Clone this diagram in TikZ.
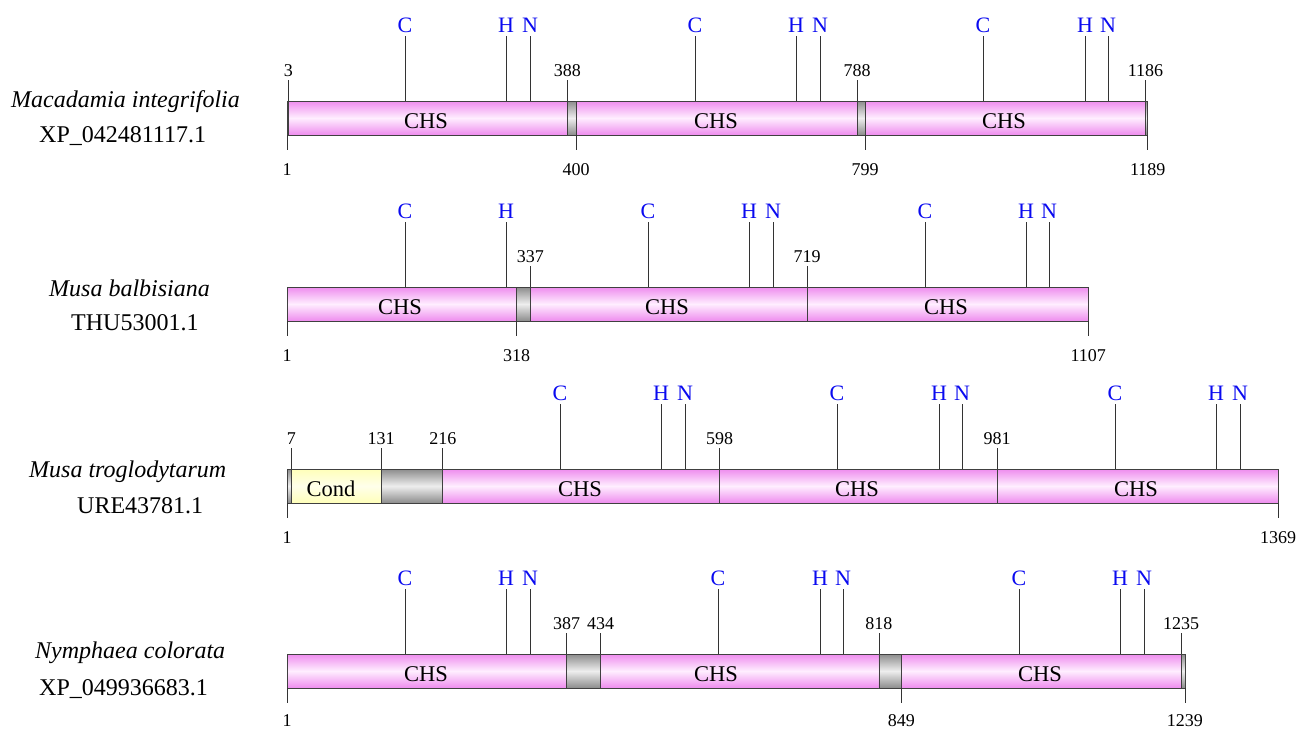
\documentclass[tikz,border=0pt]{standalone}
\usepackage{fontspec}
\setmainfont{Liberation Serif}
\definecolor{pinkD}{RGB}{238,140,238}
\definecolor{pinkL}{RGB}{255,238,255}
\definecolor{grayD}{RGB}{140,140,140}
\definecolor{grayL}{RGB}{238,238,238}
\definecolor{yelD}{RGB}{255,255,185}
\definecolor{yelL}{RGB}{255,255,235}
\definecolor{motblue}{RGB}{10,10,240}
\tikzset{
  bar/.style={draw=black!75, line width=0.8pt},
  chs/.style={bar, top color=pinkD, bottom color=pinkD, middle color=pinkL},
  gapseg/.style={bar, top color=grayD, bottom color=grayD, middle color=grayL},
  cond/.style={bar, top color=yelD, bottom color=yelD, middle color=yelL},
  num/.style={font=\fontsize{18}{20}\selectfont, inner sep=0pt, anchor=base},
  mot/.style={font=\fontsize{22}{24}\selectfont, text=motblue, inner sep=0pt, anchor=base},
  dom/.style={font=\fontsize{22.5}{24}\selectfont, inner sep=0pt, anchor=base},
  sp/.style={font=\fontsize{24}{26}\selectfont\itshape, inner sep=0pt, anchor=base west},
  acc/.style={font=\fontsize{24}{26}\selectfont, inner sep=0pt, anchor=base west},
  tickline/.style={draw=black!80, line width=0.8pt}
}
% segment: style, x1, x2, ytop
\newcommand\seg[4]{\path[#1] (#2,#4) rectangle (#3,{#4+34});}
% motif: row, x, ytop, letter
\newcommand\motif[4]{\node[mot] (mot#1-#4-#2) at (#2,{#3-69}) {#4};
  \draw[tickline] (#2,{#3-65}) -- (#2,#3);}
% label above: row, x, ytop, text
\newcommand\uplab[4]{\node[num] (up#1-#4) at (#2,{#3-25}) {#4};
  \draw[tickline] (#2,{#3-21}) -- (#2,#3);}
% label below: row, x, ytop, text, baseline offset
\newcommand\dnlab[5][74]{\node[num] (dn#2-#5) at (#3,{#4+#1}) {#5};
  \draw[tickline] (#3,{#4+34}) -- (#3,{#4+49});}
\begin{document}
\begin{tikzpicture}[x=1pt,y=-1pt]
\useasboundingbox[fill=white] (0,0) rectangle (1306,728);

% ---------- Row 1 ----------
\node[sp] (sp1) at (11,107) {Macadamia integrifolia};
\node[acc] (acc1) at (39,142) {XP\_042481117.1};
\seg{gapseg}{287}{288.45}{101}
\seg{chs}{288.45}{567.38}{101}
\seg{gapseg}{567.38}{576.08}{101}
\seg{chs}{576.08}{857.18}{101}
\seg{gapseg}{857.18}{865.15}{101}
\seg{chs}{865.15}{1145.53}{101}
\seg{gapseg}{1145.53}{1147.71}{101}
\node[dom] (d1a) at (426,128) {CHS};
\node[dom] (d1b) at (716,128) {CHS};
\node[dom] (d1c) at (1004,128) {CHS};
\uplab{1}{288.45}{101}{3}
\uplab{1}{567.38}{101}{388}
\uplab{1}{857.18}{101}{788}
\uplab{1}{1145.53}{101}{1186}
\dnlab{1}{287}{101}{1}
\dnlab{1}{576.08}{101}{400}
\dnlab{1}{865.15}{101}{799}
\dnlab{1}{1147.71}{101}{1189}
\motif{1}{405}{101}{C}\motif{1}{506}{101}{H}\motif{1}{530}{101}{N}
\motif{1}{695}{101}{C}\motif{1}{796}{101}{H}\motif{1}{820}{101}{N}
\motif{1}{983}{101}{C}\motif{1}{1085}{101}{H}\motif{1}{1108}{101}{N}

% ---------- Row 2 ----------
\node[sp] (sp2) at (49,296) {Musa balbisiana};
\node[acc] (acc2) at (71,330) {THU53001.1};
\seg{chs}{287}{516.67}{287}
\seg{gapseg}{516.67}{530.43}{287}
\seg{chs}{530.43}{807.19}{287}
\seg{chs}{807.19}{1088.30}{287}
\node[dom] (d2a) at (400,314) {CHS};
\node[dom] (d2b) at (667,314) {CHS};
\node[dom] (d2c) at (946,314) {CHS};
\uplab{2}{530.43}{287}{337}
\uplab{2}{807.19}{287}{719}
\dnlab{2}{287}{287}{1}
\dnlab{2}{516.67}{287}{318}
\dnlab{2}{1088.30}{287}{1107}
\motif{2}{405}{287}{C}\motif{2}{506}{287}{H}
\motif{2}{648}{287}{C}\motif{2}{749}{287}{H}\motif{2}{773}{287}{N}
\motif{2}{925}{287}{C}\motif{2}{1026}{287}{H}\motif{2}{1049}{287}{N}

% ---------- Row 3 ----------
\node[sp] (sp3) at (29,477) {Musa troglodytarum};
\node[acc] (acc3) at (77,513) {URE43781.1};
\seg{gapseg}{287}{291.35}{469}
\seg{cond}{291.35}{381.19}{469}
\seg{gapseg}{381.19}{442.77}{469}
\seg{chs}{442.77}{719.53}{469}
\seg{chs}{719.53}{997.01}{469}
\seg{chs}{997.01}{1278.12}{469}
\node[dom] (d3cond) at (331,496) {Cond};
\node[dom] (d3a) at (580,496) {CHS};
\node[dom] (d3b) at (857,496) {CHS};
\node[dom] (d3c) at (1136,496) {CHS};
\uplab{3}{291.35}{469}{7}
\uplab{3}{381.19}{469}{131}
\uplab{3}{442.77}{469}{216}
\uplab{3}{719.53}{469}{598}
\uplab{3}{997.01}{469}{981}
\dnlab{3}{287}{469}{1}
\dnlab{3}{1278.12}{469}{1369}
\motif{3}{560}{469}{C}\motif{3}{661}{469}{H}\motif{3}{685}{469}{N}
\motif{3}{837}{469}{C}\motif{3}{939}{469}{H}\motif{3}{962}{469}{N}
\motif{3}{1115}{469}{C}\motif{3}{1216}{469}{H}\motif{3}{1240}{469}{N}

% ---------- Row 4 ----------
\node[sp] (sp4) at (35,658) {Nymphaea colorata};
\node[acc] (acc4) at (39,695) {XP\_049936683.1};
\seg{chs}{287}{566.66}{654}
\seg{gapseg}{566.66}{600.71}{654}
\seg{chs}{600.71}{878.92}{654}
\seg{gapseg}{878.92}{901.38}{654}
\seg{chs}{901.38}{1181.03}{654}
\seg{gapseg}{1181.03}{1184.93}{654}
\node[dom] (d4a) at (426,681) {CHS};
\node[dom] (d4b) at (716,681) {CHS};
\node[dom] (d4c) at (1040,681) {CHS};
\uplab{4}{566.66}{654}{387}
\uplab{4}{600.71}{654}{434}
\uplab{4}{878.92}{654}{818}
\uplab{4}{1181.03}{654}{1235}
\dnlab[72]{4}{287}{654}{1}
\dnlab[72]{4}{901.38}{654}{849}
\dnlab[72]{4}{1184.93}{654}{1239}
\motif{4}{405}{654}{C}\motif{4}{506}{654}{H}\motif{4}{530}{654}{N}
\motif{4}{718}{654}{C}\motif{4}{820}{654}{H}\motif{4}{843}{654}{N}
\motif{4}{1019}{654}{C}\motif{4}{1120}{654}{H}\motif{4}{1144}{654}{N}
\end{tikzpicture}
\end{document}
